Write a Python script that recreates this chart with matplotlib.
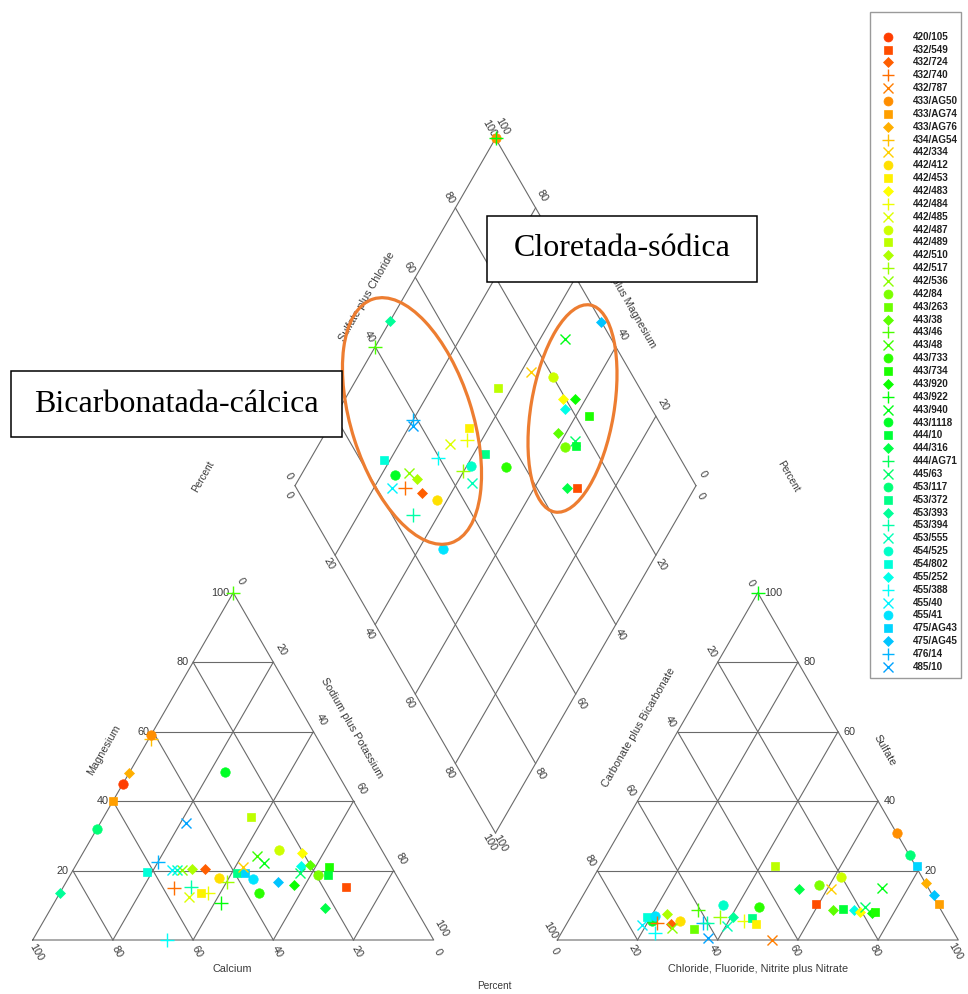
import colorsys
import numpy as np
import matplotlib
matplotlib.use('Agg')
import matplotlib.pyplot as plt
from matplotlib.patches import Ellipse, Rectangle

plt.rcParams['font.family'] = ['Liberation Sans Narrow', 'Liberation Sans', 'DejaVu Sans']

# sample ids, in legend order
SAMPLES = ['420/105', '432/549', '432/724', '432/740', '432/787',
           '433/AG50', '433/AG74', '433/AG76', '434/AG54', '442/334',
           '442/412', '442/453', '442/483', '442/484', '442/485',
           '442/487', '442/489', '442/510', '442/517', '442/536',
           '442/84', '443/263', '443/38', '443/46', '443/48',
           '443/733', '443/734', '443/920', '443/922', '443/940',
           '443/1118', '444/10', '444/316', '444/AG71', '445/63',
           '453/117', '453/372', '453/393', '453/394', '453/555',
           '454/525', '454/802', '455/252', '455/388', '455/40',
           '455/41', '475/AG43', '475/AG45', '476/14', '485/10']

# cation triangle: sodium plus potassium (%) and magnesium (%)
cat_samples = ['443/46', '434/AG54', '433/AG50', '433/AG76', '420/105', '433/AG74',
               '453/117', '453/393', '443/1118', '485/10', '442/489', '442/487',
               '442/483', '443/48', '443/940', '455/252', '443/38', '445/63',
               '443/734', '444/10', '442/84', '444/316', '432/549', '443/920',
               '475/AG45', '443/733', '455/41', '453/372', '475/AG43', '442/334',
               '442/517', '442/412', '443/922', '432/724', '442/510', '442/536',
               '453/555', '455/40', '476/14', '454/802', '432/740', '453/394',
               '442/453', '442/484', '442/485', '455/388']
cat_nak = [0, 0.5, 0, 0, 0, 0,
           0, 0, 23.7, 21.3, 36.7, 48.5,
           54.6, 43.8, 46.7, 56.2, 58.4, 57.0,
           63.4, 64.3, 61.9, 68.3, 70.5, 57.3,
           52.9, 49.8, 46.2, 41.2, 43.2, 42.0,
           40.0, 37.5, 41.7, 32.7, 29.6, 27.1,
           26.0, 24.6, 20.0, 18.6, 27.8, 31.8,
           35.2, 37.1, 32.7, 33.4]
cat_mg = [100, 58, 59, 48, 45, 40,
          32, 13.5, 48.5, 33.8, 35.5, 25.9,
          25.1, 24.2, 22.1, 21.3, 21.5, 19.4,
          20.9, 18.7, 18.7, 9.1, 15.2, 15.7,
          16.7, 13.4, 17.6, 19.4, 19.4, 20.9,
          16.8, 17.8, 10.6, 20.5, 20.5, 20.2,
          20.2, 20.2, 22.5, 19.7, 14.9, 15.2,
          13.4, 13.4, 12.5, 0]

# anion triangle: chloride+fluoride+nitrite+nitrate (%) and sulfate (%)
an_samples = ['443/922', '433/AG50', '453/117', '475/AG43', '433/AG76', '475/AG45',
              '433/AG74', '442/489', '442/487', '444/316', '442/84', '442/334',
              '443/940', '432/549', '443/38', '444/10', '455/252', '442/483',
              '445/63', '443/920', '443/734', '443/1118', '454/802', '455/41',
              '455/40', '455/388', '432/740', '442/510', '432/724', '442/412',
              '442/536', '443/263', '443/46', '476/14', '453/394', '485/10',
              '454/525', '442/517', '453/555', '453/393', '442/484', '453/372',
              '442/453', '443/733', '432/787']
an_cl = [0, 69.4, 75.8, 79.0, 83.8, 87.4,
         89.9, 43.6, 61.6, 53.0, 57.3, 60.9,
         73.4, 59.3, 64.4, 66.8, 69.7, 71.4,
         71.9, 74.6, 75.1, 20.7, 19.0, 20.9,
         18.9, 23.4, 22.4, 23.6, 26.0, 27.8,
         26.8, 32.6, 30.9, 33.9, 34.9, 37.4,
         36.3, 37.2, 40.2, 40.6, 43.8, 45.3,
         47.3, 45.5, 53.5]
an_so4 = [100, 30.7, 24.4, 21.3, 16.3, 13.0,
          10.4, 21.3, 18.2, 14.6, 15.8, 14.6,
          14.9, 10.4, 8.6, 8.8, 8.6, 8.2,
          9.6, 7.7, 8.2, 5.6, 6.5, 6.9,
          4.3, 1.9, 4.8, 7.4, 4.5, 5.5,
          3.4, 3.1, 8.6, 5.0, 4.8, 0.5,
          10.1, 6.7, 4.0, 6.5, 5.6, 6.4,
          4.6, 9.4, 0]

# diamond: sulfate plus chloride (%) and calcium plus magnesium (%)
dia_samples = ['433/AG50', '443/922', '453/393', '443/46', '485/10', '476/14',
               '442/453', '442/485', '442/484', '455/388', '454/802', '443/1118',
               '442/536', '442/510', '455/40', '432/740', '432/724', '442/412',
               '453/394', '442/517', '454/525', '453/555', '453/372', '443/733',
               '455/41', '442/489', '442/334', '475/AG45', '443/940', '442/487',
               '442/483', '443/920', '455/252', '443/734', '443/38', '445/63',
               '442/84', '444/10', '444/316', '432/549']
dia_anion = [100, 100, 47.3, 39.9, 38.0, 38.9,
             51.7, 44.6, 49.5, 39.7, 25.9, 26.4,
             30.3, 31.2, 23.8, 27.1, 30.7, 33.3,
             25.2, 43.9, 46.7, 44.5, 51.8, 55.2,
             27.9, 64.8, 75.1, 100, 88.5, 79.9,
             79.4, 82.3, 78.4, 83.3, 73.2, 76.2,
             72.9, 75.7, 67.6, 69.9]
dia_cation = [100, 100, 100, 100, 79.3, 80.0,
              65.0, 67.3, 63.6, 68.3, 81.6, 76.6,
              73.4, 70.6, 75.6, 72.3, 67.3, 62.7,
              66.5, 60.3, 58.9, 56.4, 57.2, 50.1,
              54.0, 63.4, 57.6, 47.2, 53.6, 51.4,
              45.6, 42.7, 43.8, 36.7, 41.9, 36.6,
              38.3, 35.6, 31.8, 29.5]

# geometry (pixels)
SIDE = 401.0
HGT = SIDE * np.sqrt(3) / 2
LEFT0 = (32.7, 940.0)
RIGHT0 = (557.3, 940.0)
GAP = RIGHT0[0] - (LEFT0[0] + SIDE)
DIA0 = (LEFT0[0] + SIDE + GAP / 2, 940.0 - GAP * np.sqrt(3) / 2)

LINE = '#6a6a6a'
TXT = '#3a3a3a'
MARKERS = ['o', 's', 'D', '+', 'x']
MSIZE = {'o': 6.8, 's': 6.0, 'D': 5.6, '+': 9.5, 'x': 7.5}


def sample_style(name):
    i = SAMPLES.index(name)
    hue = 0.04 + 0.52 * i / (len(SAMPLES) - 1)
    return MARKERS[i % 5], colorsys.hsv_to_rgb(hue, 1.0, 1.0)


def tri_xy(origin, right, top):
    right = np.asarray(right, float) / 100
    top = np.asarray(top, float) / 100
    return origin[0] + SIDE * (right + top / 2), origin[1] - HGT * top


def dia_xy(anion, cation):
    s = np.asarray(anion, float) / 100
    c = np.asarray(cation, float) / 100
    return DIA0[0] + SIDE / 2 * (s - c), DIA0[1] - HGT * (s + c)


def draw_points(ax, names, xs, ys):
    for name, x, y in zip(names, xs, ys):
        m, col = sample_style(name)
        ax.plot(x, y, marker=m, ms=MSIZE[m], color=col, mec=col,
                mew=1.0 if m in '+x' else 0.5, ls='none', zorder=3)


def draw_triangle(ax, origin):
    xs, ys = tri_xy(origin, [0, 100, 0, 0], [0, 0, 100, 0])
    ax.plot(xs, ys, color=LINE, lw=0.8, zorder=1)
    for k in range(20, 100, 20):
        for r, t in (([0, 100 - k], [k, k]),
                     ([k, k], [0, 100 - k]),
                     ([100 - k, 0], [0, 100 - k])):
            x, y = tri_xy(origin, r, t)
            ax.plot(x, y, color=LINE, lw=0.8, zorder=1)


def draw_diamond(ax):
    for a, c in (([0, 100], [0, 0]), ([0, 100], [100, 100]),
                 ([0, 0], [0, 100]), ([100, 100], [0, 100])):
        x, y = dia_xy(a, c)
        ax.plot(x, y, color=LINE, lw=0.8, zorder=1)
    for k in range(20, 100, 20):
        x, y = dia_xy([k, k], [0, 100])
        ax.plot(x, y, color=LINE, lw=0.8, zorder=1)
        x, y = dia_xy([0, 100], [k, k])
        ax.plot(x, y, color=LINE, lw=0.8, zorder=1)


fig = plt.figure(figsize=(9.68, 9.94), dpi=100)
ax = fig.add_axes([0, 0, 1, 1])
ax.set_xlim(0, 968)
ax.set_ylim(994, 0)
ax.axis('off')

draw_triangle(ax, LEFT0)
draw_triangle(ax, RIGHT0)
draw_diamond(ax)

ticks = range(0, 101, 20)
fs = 7.8
# left triangle labels
for k in ticks:
    x, y = tri_xy(LEFT0, 0, k)
    if k > 0:
        ax.text(x - 4, y, str(k), ha='right', va='center', fontsize=fs, color=TXT)
    x, y = tri_xy(LEFT0, k, 100 - k)
    ax.text(x + 8, y - 12, str(k), ha='center', va='center', fontsize=fs,
            color=TXT, rotation=-60)
    x, y = tri_xy(LEFT0, 100 - k, 0)
    ax.text(x + 4, y + 12, str(k), ha='center', va='center', fontsize=fs,
            color=TXT, rotation=-60)
# right triangle labels
for k in ticks:
    x, y = tri_xy(RIGHT0, 100 - k, k)
    if k > 0:
        ax.text(x + 6, y, str(k), ha='left', va='center', fontsize=fs, color=TXT)
    x, y = tri_xy(RIGHT0, 0, 100 - k)
    ax.text(x - 7, y - 10, str(k), ha='center', va='center', fontsize=fs,
            color=TXT, rotation=-60)
    x, y = tri_xy(RIGHT0, k, 0)
    ax.text(x - 3, y + 11, str(k), ha='center', va='center', fontsize=fs,
            color=TXT, rotation=-60)
# diamond labels
for k in ticks:
    x, y = dia_xy(k, 100)
    ax.text(x - 6, y - 10, str(k), ha='center', va='center', fontsize=fs,
            color=TXT, rotation=-60, zorder=2)
    x, y = dia_xy(100, k)
    ax.text(x + 7, y - 12, str(k), ha='center', va='center', fontsize=fs,
            color=TXT, rotation=-60, zorder=2)
    x, y = dia_xy(0, 100 - k)
    ax.text(x - 6, y + 9, str(k), ha='center', va='center', fontsize=fs,
            color=TXT, rotation=-60, zorder=2)
    x, y = dia_xy(100 - k, 0)
    ax.text(x + 5, y + 10, str(k), ha='center', va='center', fontsize=fs,
            color=TXT, rotation=-60, zorder=2)

tf = 7.8
ax.text(104, 750, 'Magnesium', rotation=60, ha='center', va='center', fontsize=tf, color=TXT)
ax.text(351.7, 728, 'Sodium plus Potassium', rotation=-60, ha='center', va='center',
        fontsize=tf, color=TXT)
ax.text(232.7, 968.5, 'Calcium', ha='center', va='center', fontsize=tf, color=TXT)
ax.text(638.3, 728, 'Carbonate plus Bicarbonate', rotation=60, ha='center', va='center',
        fontsize=tf, color=TXT)
ax.text(885, 750, 'Sulfate', rotation=-60, ha='center', va='center', fontsize=tf, color=TXT)
ax.text(758.3, 968.5, 'Chloride, Fluoride, Nitrite plus Nitrate', ha='center', va='center',
        fontsize=tf, color=TXT)
ax.text(367.3, 296.7, 'Sulfate plus Chloride', rotation=60, ha='center', va='center',
        fontsize=tf, color=TXT, zorder=2)
ax.text(622.5, 294, 'Calcium plus Magnesium', rotation=-60, ha='center', va='center',
        fontsize=tf, color=TXT, zorder=2)
ax.text(203.3, 476.7, 'Percent', rotation=60, ha='center', va='center', fontsize=7.2, color=TXT)
ax.text(788.7, 476.7, 'Percent', rotation=-60, ha='center', va='center', fontsize=7.2, color=TXT)
ax.text(494.5, 986, 'Percent', ha='center', va='center', fontsize=7.2, color=TXT)

# data points
x, y = tri_xy(LEFT0, cat_nak, cat_mg)
draw_points(ax, cat_samples, x, y)
x, y = tri_xy(RIGHT0, an_cl, an_so4)
draw_points(ax, an_samples, x, y)
x, y = dia_xy(dia_anion, dia_cation)
draw_points(ax, dia_samples, x, y)

# legend
ax.add_patch(Rectangle((869.5, 11.5), 91, 666.5, fc='white', ec='#9a9a9a', lw=1.0, zorder=4))
for i, name in enumerate(SAMPLES):
    m, col = sample_style(name)
    yy = 36.7 + i * 12.86
    ax.plot(888.3, yy, marker=m, ms=MSIZE[m] * 0.95, color=col, mec=col,
            mew=1.0 if m in '+x' else 0.5, ls='none', zorder=5)
    ax.text(913, yy, name, ha='left', va='center', fontsize=7.1, fontweight='bold',
            color='#202020', zorder=5)

# highlighted groups
orange = '#ED7D31'
ax.add_patch(Ellipse((412, 421), 121, 256, angle=-17.7, fill=False, ec=orange,
                     lw=2.3, zorder=4))
ax.add_patch(Ellipse((572.5, 408.5), 83, 210, angle=9.6, fill=False, ec=orange,
                     lw=2.3, zorder=4))

ax.add_patch(Rectangle((10.7, 371), 331, 65.7, fc='white', ec='black', lw=1.1, zorder=5))
ax.text(176.2, 404, 'Bicarbonatada-cálcica', ha='center', va='center', fontsize=23,
        family='Liberation Serif', color='black', zorder=6)
ax.add_patch(Rectangle((486.7, 216), 270.3, 65.7, fc='white', ec='black', lw=1.1, zorder=5))
ax.text(621.8, 248.5, 'Cloretada-sódica', ha='center', va='center', fontsize=23,
        family='Liberation Serif', color='black', zorder=6)

fig.savefig('out.png', dpi=100)
